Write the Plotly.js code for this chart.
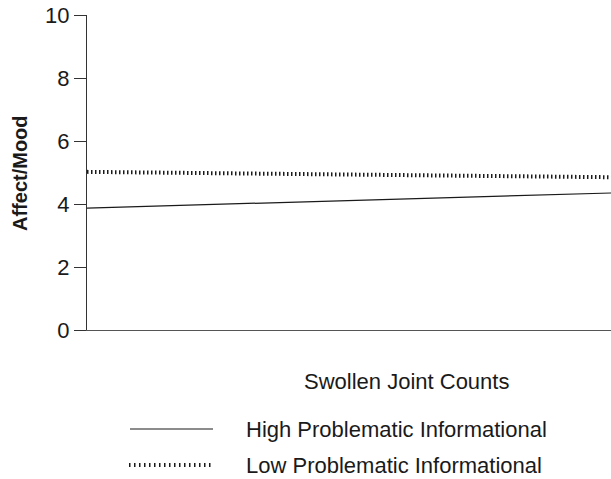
<!DOCTYPE html>
<html>
<head>
<meta charset="utf-8">
<script src="https://cdn.plot.ly/plotly-3.0.1.min.js"></script>
<style>html,body{margin:0;padding:0;background:#fff;}#chart{width:611px;height:479px;}</style>
</head>
<body>
<div id="chart"></div>
<script>
// Data
const xLevels = [0, 1];               // low -> high swollen joint counts
const highProblematic = [3.87, 4.35];  // High Problematic Informational
const lowProblematic = [5.02, 4.85];   // Low Problematic Informational
const yTicks = [0, 2, 4, 6, 8, 10];
const seriesNames = ['High Problematic Informational', 'Low Problematic Informational'];
const xTitle = 'Swollen Joint Counts';
const yTitle = 'Affect/Mood';

const FONT = 'Liberation Sans, Arial, sans-serif';
const ink = '#1a1a1a';

const traces = [
  {x: xLevels, y: highProblematic, name: seriesNames[0], mode: 'lines',
   line: {color: ink, width: 1.2}, showlegend: false},
  {x: xLevels, y: lowProblematic, name: seriesNames[1], mode: 'lines',
   line: {color: ink, width: 4, dash: '1.5px,2.5px'}, showlegend: false}
];

// plot area in px: left 87, right 611, top 15, bottom 330
const L = 87, T = 15, W = 524, H = 315;
const px = x => (x - L) / W;
const py = y => (T + H - y) / H;

const layout = {
  width: 611, height: 479,
  margin: {l: L, r: 0, t: T, b: 479 - T - H, pad: 0},
  paper_bgcolor: '#fff', plot_bgcolor: '#fff',
  font: {family: FONT, color: ink, size: 22},
  xaxis: {range: [0, 1], showgrid: false, zeroline: false, showticklabels: false,
          ticks: '', showline: true, linecolor: '#555', linewidth: 1},
  yaxis: {range: [0, 10], tickmode: 'array', tickvals: yTicks, ticktext: yTicks.map(String),
          showgrid: false, zeroline: false, showline: true, linecolor: '#333', linewidth: 1,
          ticks: 'outside', ticklen: 12, tickwidth: 1, tickcolor: '#333',
          tickfont: {family: FONT, size: 22, color: ink}},
  annotations: [
    {text: yTitle, xref: 'paper', yref: 'paper', x: px(20), y: py(173),
     xanchor: 'center', yanchor: 'middle', textangle: -90, showarrow: false,
     font: {family: FONT, size: 20, color: ink, weight: 'bold'}},
    {text: xTitle, xref: 'paper', yref: 'paper', x: px(406), y: py(381),
     xanchor: 'center', yanchor: 'middle', showarrow: false,
     font: {family: FONT, size: 22, color: ink}},
    {text: seriesNames[0], xref: 'paper', yref: 'paper', x: px(244), y: py(429),
     xanchor: 'left', yanchor: 'middle', showarrow: false,
     font: {family: FONT, size: 22, color: ink}},
    {text: seriesNames[1], xref: 'paper', yref: 'paper', x: px(244), y: py(465),
     xanchor: 'left', yanchor: 'middle', showarrow: false,
     font: {family: FONT, size: 22, color: ink}}
  ],
  shapes: [
    {type: 'line', xref: 'paper', yref: 'paper', x0: px(130), x1: px(213), y0: py(429), y1: py(429),
     line: {color: ink, width: 1.2}},
    {type: 'line', xref: 'paper', yref: 'paper', x0: px(129), x1: px(213), y0: py(465), y1: py(465),
     line: {color: ink, width: 4, dash: '1.5px,3.5px'}}
  ]
};

Plotly.newPlot('chart', traces, layout, {displayModeBar: false});
</script>
</body>
</html>
